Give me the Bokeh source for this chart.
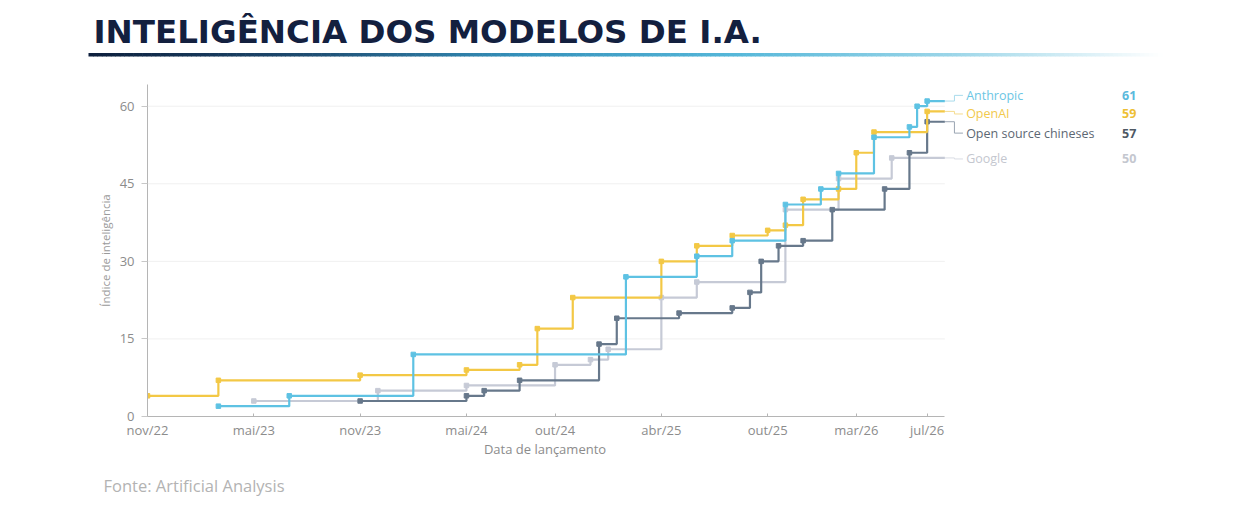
import calendar
from bokeh.plotting import figure
from bokeh.layouts import column
from bokeh.models import Range1d, FixedTicker
from bokeh.core.properties import value
from bokeh.embed import file_html
from bokeh.resources import INLINE

# ---------------- data ----------------
TITLE = "INTELIGÊNCIA DOS MODELOS DE I.A."
SOURCE = "Fonte: Artificial Analysis"
X_LABEL = "Data de lançamento"
Y_LABEL = "Índice de inteligência"

series_names = ["Anthropic", "OpenAI", "Open source chineses", "Google"]

anthropic_dates = ["2023-03-01", "2023-07-01", "2024-02-01", "2025-02-01", "2025-06-01",
                   "2025-08-01", "2025-11-01", "2026-01-01", "2026-02-01", "2026-04-01",
                   "2026-06-01", "2026-06-14", "2026-07-01"]
anthropic_vals = [2, 4, 12, 27, 31, 34, 41, 44, 47, 54, 56, 60, 61]

openai_dates = ["2022-11-01", "2023-03-01", "2023-11-01", "2024-05-01", "2024-08-01",
                "2024-09-01", "2024-11-01", "2025-04-01", "2025-06-01", "2025-08-01",
                "2025-10-01", "2025-11-01", "2025-12-01", "2026-02-01", "2026-03-01",
                "2026-04-01", "2026-07-01"]
openai_vals = [4, 7, 8, 9, 10, 17, 23, 30, 33, 35, 36, 37, 42, 44, 51, 55, 59]

chinese_dates = ["2023-11-01", "2024-05-01", "2024-06-01", "2024-08-01", "2024-12-16",
                 "2025-01-16", "2025-05-01", "2025-08-01", "2025-09-01", "2025-09-20",
                 "2025-10-20", "2025-12-01", "2026-01-21", "2026-04-19", "2026-06-01",
                 "2026-07-01"]
chinese_vals = [3, 4, 5, 7, 14, 19, 20, 21, 24, 30, 33, 34, 40, 44, 51, 57]

google_dates = ["2023-05-01", "2023-12-01", "2024-05-01", "2024-10-01", "2024-12-01",
                "2025-01-01", "2025-04-01", "2025-06-01", "2025-11-01", "2026-02-01",
                "2026-05-01"]
google_vals = [3, 5, 6, 10, 11, 13, 23, 26, 40, 46, 50]

start_date = "2022-11-01"
end_date = "2026-08-01"
tick_dates = ["2022-11-01", "2023-05-01", "2023-11-01", "2024-05-01", "2024-10-01",
              "2025-04-01", "2025-10-01", "2026-03-01", "2026-07-01"]
tick_labels = ["nov/22", "mai/23", "nov/23", "mai/24", "out/24", "abr/25", "out/25", "mar/26", "jul/26"]
y_ticks = [0, 15, 30, 45, 60]

# ---------------- style ----------------
colors = {"Anthropic": "#5ec2e3", "OpenAI": "#f3c845",
          "Open source chineses": "#67788b", "Google": "#c6cad6"}
conn_colors = {"Anthropic": "#a9dbec", "OpenAI": "#f5dc8f",
               "Open source chineses": "#9aa5b2", "Google": "#d9dce4"}
text_colors = {"Anthropic": "#6cc6e4", "OpenAI": "#f2c94c",
               "Open source chineses": "#5d6773", "Google": "#c4c7cf"}
num_colors = {"Anthropic": "#5ab9dc", "OpenAI": "#eebf35",
              "Open source chineses": "#4f5964", "Google": "#c4c7cf"}
legend_y = [62.1, 58.5, 54.8, 49.8]   # label positions (layout)
FONT = "Open Sans"


def to_month(s):
    y, mo, d = map(int, s.split("-"))
    y0, m0, _ = map(int, start_date.split("-"))
    return (y - y0) * 12 + (mo - m0) + (d - 1) / calendar.monthrange(y, mo)[1]


END = to_month(end_date)

W = 1224
H_HDR, H_MAIN, H_FTR = 70, 371, 66


def plain_fig(h):
    f = figure(width=W, height=h, x_range=Range1d(0, W), y_range=Range1d(0, h),
               toolbar_location=None, output_backend="svg", min_border=0,
               min_border_left=0, min_border_right=0, min_border_top=0, min_border_bottom=0,
               x_axis_location=None, y_axis_location=None)
    f.grid.visible = False
    f.outline_line_color = None
    try:
        f.frame_align = False
    except Exception:
        pass
    return f


# ---------------- header ----------------
hdr = plain_fig(H_HDR)
hdr.text(x=[93], y=[H_HDR - 31.5], text=[TITLE], text_font=value("DejaVu Sans"),
         text_font_style="bold", text_font_size="32.5px", text_color="#13203f",
         text_baseline="middle", text_align="left")

stops = [(0.0, (13, 31, 60)), (0.2, (30, 75, 112)), (0.4, (52, 144, 186)),
         (0.6, (85, 183, 217)), (0.8, (154, 213, 232)), (1.0, (255, 255, 255))]


def grad(t):
    for (t0, c0), (t1, c1) in zip(stops[:-1], stops[1:]):
        if t <= t1:
            f = (t - t0) / (t1 - t0)
            return "#%02x%02x%02x" % tuple(int(round(a + (b - a) * f)) for a, b in zip(c0, c1))
    return "#ffffff"


N = 240
gx0, gx1 = 88, 1162
lefts = [gx0 + (gx1 - gx0) * i / N for i in range(N)]
rights = [gx0 + (gx1 - gx0) * (i + 1) / N + 0.6 for i in range(N)]
gcols = [grad((i + 0.5) / N) for i in range(N)]
hdr.quad(left=lefts, right=rights, top=H_HDR - 52.5, bottom=H_HDR - 56.0,
         fill_color=gcols, line_color=None)

# ---------------- main chart ----------------
p = figure(width=W, height=H_MAIN, x_range=Range1d(0, 60.33), y_range=Range1d(0, 64.2),
           min_border_left=147, min_border_right=8, min_border_top=14, min_border_bottom=24,
           toolbar_location=None, output_backend="svg")
p.grid.visible = False
p.outline_line_color = None

for g in y_ticks[1:]:
    p.segment(x0=0, y0=g, x1=END, y1=g, line_color="#f0f0f0", line_width=1)

data = {
    "Anthropic": (anthropic_dates, anthropic_vals),
    "OpenAI": (openai_dates, openai_vals),
    "Open source chineses": (chinese_dates, chinese_vals),
    "Google": (google_dates, google_vals),
}

for name in ["Google", "Open source chineses", "OpenAI", "Anthropic"]:
    dts, vals = data[name]
    xs = [to_month(d) for d in dts]
    c = colors[name]
    p.step(xs + [END], vals + [vals[-1]], mode="after", line_color=c, line_width=2.2)
    p.scatter(xs, vals, marker="square", size=4.5, fill_color=c, line_color=c)

# legend connectors and labels
elbow = END + 0.54
lab_end = END + 1.02
for name, ly in zip(series_names, legend_y):
    vals = data[name][1]
    last = vals[-1]
    p.line([END, elbow, elbow, lab_end], [last, last, ly, ly],
           line_color=conn_colors[name], line_width=1)
    p.text(x=[END + 1.2], y=[ly], text=[name], text_font=value(FONT), text_font_size="12.5px",
           text_color=text_colors[name], text_baseline="middle", text_align="left")
    p.text(x=[END + 10.0], y=[ly], text=[str(last)], text_font=value(FONT), text_font_size="12.5px",
           text_font_style="bold", text_color=num_colors[name], text_baseline="middle",
           text_align="left")

# axes
p.xaxis.ticker = FixedTicker(ticks=[to_month(d) for d in tick_dates])
p.xaxis.major_label_overrides = {int(round(to_month(d))): l for d, l in zip(tick_dates, tick_labels)}
p.xaxis.bounds = (0, END)
p.xaxis.axis_line_color = "#b5b5b5"
p.xaxis.major_tick_line_color = "#b5b5b5"
p.xaxis.major_tick_in = 3
p.xaxis.major_tick_out = 0
p.xaxis.minor_tick_line_color = None
p.xaxis.major_label_standoff = 4
p.xaxis.major_label_text_font = FONT
p.xaxis.major_label_text_font_size = "13px"
p.xaxis.major_label_text_color = "#8c8c8c"

p.yaxis.ticker = FixedTicker(ticks=y_ticks)
p.yaxis.axis_line_color = "#b5b5b5"
p.yaxis.major_tick_line_color = "#c8c8c8"
p.yaxis.major_tick_in = 0
p.yaxis.major_tick_out = 6
p.yaxis.minor_tick_line_color = None
p.yaxis.major_label_standoff = 7
p.yaxis.major_label_text_font = FONT
p.yaxis.major_label_text_font_size = "13px"
p.yaxis.major_label_text_color = "#8c8c8c"
p.yaxis.axis_label = Y_LABEL
p.yaxis.axis_label_text_font = FONT
p.yaxis.axis_label_text_font_size = "11.5px"
p.yaxis.axis_label_text_font_style = "normal"
p.yaxis.axis_label_text_color = "#9a9a9a"
p.yaxis.axis_label_standoff = 4

# ---------------- footer ----------------
ftr = plain_fig(H_FTR)
ftr.text(x=[544.5], y=[H_FTR - 7], text=[X_LABEL], text_font=value(FONT), text_font_size="13px",
         text_color="#8c8c8c", text_align="center", text_baseline="middle")
ftr.text(x=[103], y=[H_FTR - 44], text=[SOURCE], text_font=value(FONT), text_font_size="16.5px",
         text_color="#b3b3b3", text_align="left", text_baseline="middle")

layout = column(hdr, p, ftr, spacing=0)
open("out.html", "w").write(file_html(layout, INLINE))
